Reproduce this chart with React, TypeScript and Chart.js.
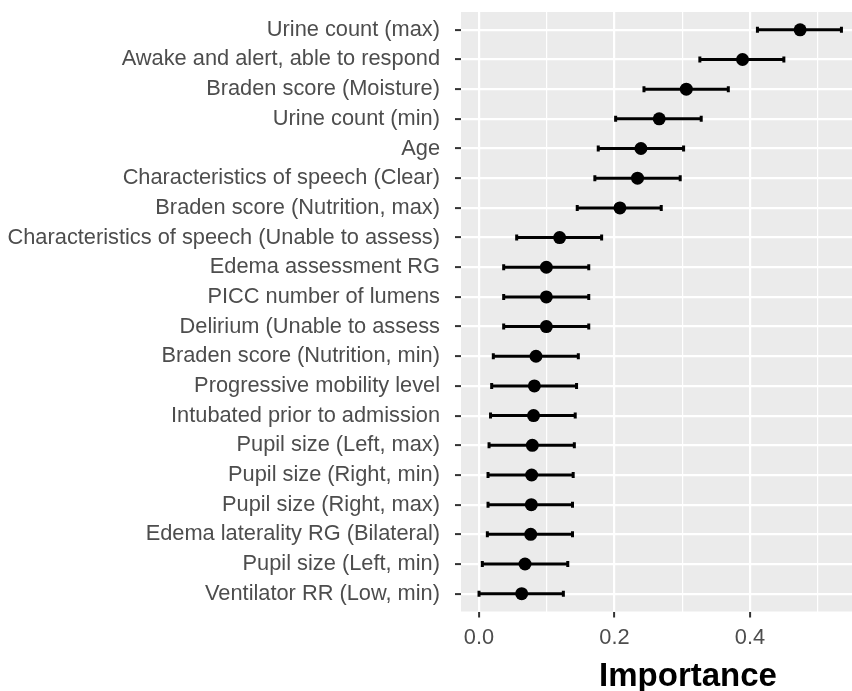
import React, { useEffect, useRef } from "react";
import { Chart, registerables } from "chart.js";

Chart.register(...registerables);

const categories: string[] = [
  "Urine count (max)",
  "Awake and alert, able to respond",
  "Braden score (Moisture)",
  "Urine count (min)",
  "Age",
  "Characteristics of speech (Clear)",
  "Braden score (Nutrition, max)",
  "Characteristics of speech (Unable to assess)",
  "Edema assessment RG",
  "PICC number of lumens",
  "Delirium (Unable to assess",
  "Braden score (Nutrition, min)",
  "Progressive mobility level",
  "Intubated prior to admission",
  "Pupil size (Left, max)",
  "Pupil size (Right, min)",
  "Pupil size (Right, max)",
  "Edema laterality RG (Bilateral)",
  "Pupil size (Left, min)",
  "Ventilator RR (Low, min)",
];

const importance: number[] = [
  0.474, 0.389, 0.306, 0.266, 0.239, 0.234, 0.208, 0.119, 0.0994, 0.0994,
  0.0994, 0.0841, 0.0817, 0.0805, 0.0787, 0.0777, 0.0772, 0.0763, 0.0679, 0.063,
];

const lowerBound: number[] = [
  0.411, 0.326, 0.2435, 0.2017, 0.176, 0.171, 0.145, 0.0556, 0.0364, 0.0364,
  0.0364, 0.0211, 0.0187, 0.017, 0.0148, 0.0133, 0.0133, 0.0123, 0.0049, 0.0,
];

const upperBound: number[] = [
  0.535, 0.45, 0.368, 0.328, 0.302, 0.297, 0.269, 0.181, 0.162, 0.162,
  0.162, 0.1466, 0.144, 0.142, 0.1407, 0.139, 0.138, 0.138, 0.131, 0.1245,
];

const xTickValues: number[] = [0, 0.1, 0.2, 0.3, 0.4, 0.5];
const xMajorLabels: number[] = [0, 0.2, 0.4];
const axisTitle = "Importance";

const FONT = "'Liberation Sans', Arial, Helvetica, sans-serif";

const isMajor = (v: number) => xMajorLabels.some((m) => Math.abs(m - v) < 1e-9);

const zeroPadding = (scale: any) => {
  scale.paddingTop = 0;
  scale.paddingBottom = 0;
  scale.paddingLeft = 0;
  scale.paddingRight = 0;
};

export default function App() {
  const canvasRef = useRef<HTMLCanvasElement | null>(null);

  useEffect(() => {
    const canvas = canvasRef.current;
    if (!canvas) return;

    const panelBg = {
      id: "panelBg",
      beforeDraw(chart: any) {
        const { ctx, chartArea } = chart;
        ctx.save();
        ctx.fillStyle = "#EBEBEB";
        ctx.fillRect(chartArea.left, chartArea.top, chartArea.right - chartArea.left, chartArea.bottom - chartArea.top);
        ctx.restore();
      },
    };

    const errorBars = {
      id: "errorBars",
      beforeDatasetsDraw(chart: any) {
        const { ctx } = chart;
        const xs = chart.scales.x;
        const ys = chart.scales.y;
        ctx.save();
        ctx.strokeStyle = "#000000";
        ctx.lineCap = "butt";
        for (let i = 0; i < categories.length; i++) {
          const y = ys.getPixelForValue(i);
          const x1 = xs.getPixelForValue(lowerBound[i]);
          const x2 = xs.getPixelForValue(upperBound[i]);
          ctx.lineWidth = 3;
          ctx.beginPath();
          ctx.moveTo(x1, y);
          ctx.lineTo(x2, y);
          ctx.stroke();
          ctx.lineWidth = 3;
          ctx.beginPath();
          ctx.moveTo(x1, y - 3);
          ctx.lineTo(x1, y + 3);
          ctx.moveTo(x2, y - 3);
          ctx.lineTo(x2, y + 3);
          ctx.stroke();
        }
        ctx.restore();
      },
    };

    const xTitle = {
      id: "xTitle",
      afterDraw(chart: any) {
        const { ctx, chartArea } = chart;
        ctx.save();
        ctx.fillStyle = "#000000";
        ctx.font = `bold 33px ${FONT}`;
        ctx.textAlign = "center";
        ctx.textBaseline = "middle";
        ctx.fillText(axisTitle, chartArea.left + 227, chartArea.bottom + 65);
        ctx.restore();
      },
    };

    const chart = new Chart(canvas, {
      type: "scatter",
      data: {
        datasets: [
          {
            data: importance.map((v, i) => ({ x: v, y: i })),
            backgroundColor: "#000000",
            borderColor: "#000000",
            borderWidth: 0,
            pointRadius: 6.5,
          },
        ],
      },
      options: {
        responsive: false,
        animation: false,
        layout: { autoPadding: false, padding: { top: 12, right: 0, bottom: 0, left: 0 } },
        plugins: {
          legend: { display: false },
          tooltip: { enabled: false },
          title: { display: false },
        },
        scales: {
          x: {
            type: "linear",
            min: -0.0266,
            max: 0.5506,
            afterBuildTicks: (scale: any) => {
              scale.ticks = xTickValues.map((v) => ({ value: v }));
            },
            afterFit: (scale: any) => {
              scale.height = 79.5;
              zeroPadding(scale);
            },
            border: { display: false },
            grid: {
              color: "#FFFFFF",
              lineWidth: (ctx: any) => (ctx.tick && isMajor(ctx.tick.value) ? 2.2 : 1.2),
              drawTicks: true,
              tickLength: 6,
              tickWidth: 2,
              tickColor: (ctx: any) => (ctx.tick && isMajor(ctx.tick.value) ? "#333333" : "rgba(0,0,0,0)"),
            },
            ticks: {
              autoSkip: false,
              maxRotation: 0,
              padding: 7,
              color: "#4D4D4D",
              font: { family: FONT, size: 21.8 },
              callback: (value: any) => (isMajor(Number(value)) ? Number(value).toFixed(1) : ""),
            },
          },
          y: {
            type: "linear",
            reverse: true,
            min: -0.6,
            max: 19.6,
            afterBuildTicks: (scale: any) => {
              scale.ticks = categories.map((_, i) => ({ value: i }));
            },
            afterFit: (scale: any) => {
              scale.width = 461;
              zeroPadding(scale);
            },
            border: { display: false },
            grid: {
              color: "#FFFFFF",
              lineWidth: 2.2,
              drawTicks: true,
              tickLength: 6,
              tickWidth: 2,
              tickColor: "#333333",
            },
            ticks: {
              autoSkip: false,
              padding: 15,
              color: "#4D4D4D",
              font: { family: FONT, size: 21.8 },
              callback: (value: any) => categories[Math.round(Number(value))] ?? "",
            },
          },
        },
      },
      plugins: [panelBg, errorBars, xTitle],
    } as any);

    return () => chart.destroy();
  }, []);

  return (
    <div style={{ position: "fixed", left: 0, top: 0, width: 852, height: 691, background: "#FFFFFF" }}>
      <canvas ref={canvasRef} width={852} height={691} style={{ width: 852, height: 691, display: "block" }} />
    </div>
  );
}
